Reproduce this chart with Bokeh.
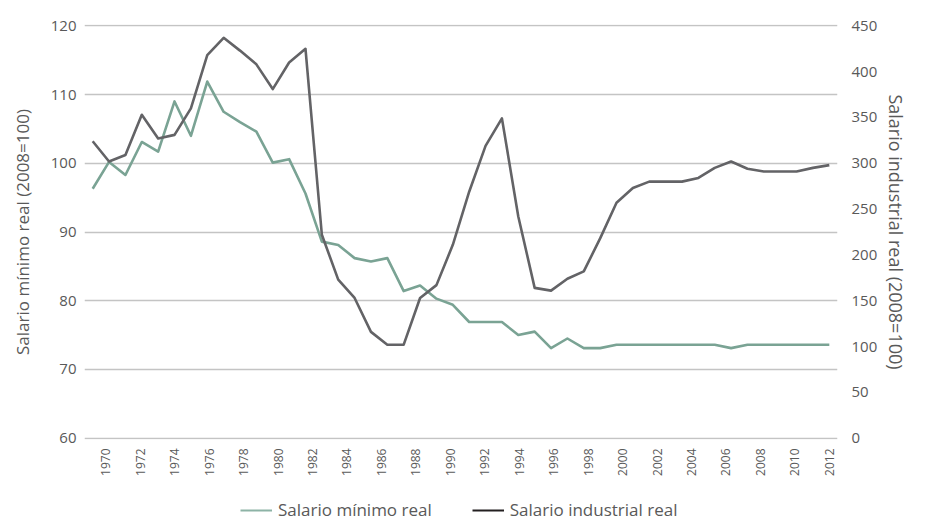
import math
from bokeh.plotting import figure
from bokeh.layouts import column
from bokeh.models import Range1d, LinearAxis, FixedTicker, Legend, LegendItem
from bokeh.embed import file_html
from bokeh.resources import INLINE

periods = list(range(46))

salario_minimo = [96.3, 100.2, 98.3, 103.1, 101.7, 109.0, 104.0, 111.9, 107.5, 106.0,
                  104.6, 100.1, 100.6, 95.6, 88.6, 88.1, 86.2, 85.7, 86.2, 81.4,
                  82.2, 80.3, 79.4, 76.9, 76.9, 76.9, 75.0, 75.5, 73.1, 74.5,
                  73.1, 73.1, 73.6, 73.6, 73.6, 73.6, 73.6, 73.6, 73.6, 73.1,
                  73.6, 73.6, 73.6, 73.6, 73.6, 73.6]

salario_industrial = [324, 302, 309, 353, 327, 331, 360, 418, 437, 423,
                      408, 381, 410, 425, 222, 173, 153, 116, 102, 102,
                      153, 167, 211, 269, 319, 349, 242, 164, 161, 174,
                      182, 218, 257, 273, 280, 280, 280, 284, 295, 302,
                      294, 291, 291, 291, 295, 298]

tick_labels = [str(y) for y in range(1970, 2013, 2)]
left_ticks = [60, 70, 80, 90, 100, 110, 120]
right_ticks = [0, 50, 100, 150, 200, 250, 300, 350, 400, 450]
series_names = ["Salario mínimo real", "Salario industrial real"]

FONT = "Open Sans"
TXT = "#595959"
GREEN = "#7aa394"
GREY = "#636366"

p = figure(width=911, height=481, output_backend="svg", toolbar_location=None,
           x_range=Range1d(-0.5, 45.5), y_range=Range1d(59.8, 120.2),
           min_border_left=84, min_border_right=72, min_border_top=24, min_border_bottom=42)
p.extra_y_ranges = {"ind": Range1d(-1.5, 451.5)}
p.outline_line_color = None
p.background_fill_color = "white"

# lines
p.line(periods, salario_minimo, line_color=GREEN, line_width=2.6, line_join="round")
p.line(periods, salario_industrial, line_color=GREY, line_width=2.6, line_join="round",
       y_range_name="ind")

# grid / axes
p.yaxis.ticker = FixedTicker(ticks=left_ticks)
p.ygrid.ticker = FixedTicker(ticks=left_ticks)
p.ygrid.grid_line_color = "#c4c4c4"
p.ygrid.grid_line_width = 1.4
p.xgrid.grid_line_color = None

n_lab = len(tick_labels)
tick_pos = [0.8 + k * (45.0 - 0.8) / (n_lab - 1) for k in range(n_lab)]
xa = p.xaxis[0]
xa.ticker = FixedTicker(ticks=tick_pos)
xa.major_label_overrides = {t: l for t, l in zip(tick_pos, tick_labels)}
xa.major_label_orientation = math.pi / 2
xa.axis_line_color = None
xa.major_tick_line_color = None
xa.minor_tick_line_color = None
xa.major_tick_out = 0
xa.minor_tick_out = 0
xa.major_label_standoff = 9
xa.major_label_text_font = FONT
xa.major_label_text_font_size = "12px"
xa.major_label_text_color = TXT

ya = p.yaxis[0]
ya.axis_label = "Salario mínimo real (2008=100)"
ya.axis_line_color = None
ya.major_tick_line_color = None
ya.minor_tick_line_color = None
ya.major_tick_out = 0
ya.minor_tick_out = 0
ya.major_label_standoff = 8
ya.major_label_text_font = FONT
ya.major_label_text_font_size = "15px"
ya.major_label_text_color = TXT
ya.axis_label_text_font = FONT
ya.axis_label_text_font_style = "normal"
ya.axis_label_text_font_size = "17px"
ya.axis_label_text_color = TXT
ya.axis_label_standoff = 14

ra = LinearAxis(y_range_name="ind", ticker=FixedTicker(ticks=right_ticks),
                axis_label="Salario industrial real (2008=100)")
ra.axis_line_color = None
ra.major_tick_line_color = None
ra.minor_tick_line_color = None
ra.major_tick_out = 0
ra.minor_tick_out = 0
ra.major_label_standoff = 14
ra.major_label_text_font = FONT
ra.major_label_text_font_size = "15px"
ra.major_label_text_color = TXT
ra.axis_label_text_font = FONT
ra.axis_label_text_font_style = "normal"
ra.axis_label_text_font_size = "18px"
ra.axis_label_text_color = TXT
ra.axis_label_standoff = 4
p.add_layout(ra, "right")

# ---- legend strip below the chart ----
lg = figure(width=911, height=40, output_backend="svg", toolbar_location=None,
            x_range=Range1d(0, 1), y_range=Range1d(0, 1),
            x_axis_type=None, y_axis_type=None, min_border=0)
lg.outline_line_color = None
# the series themselves serve as legend glyph sources (they fall outside this strip's ranges)
leg_min = lg.line(periods, salario_minimo, line_color="#8db3a6", line_width=2.2)
leg_ind = lg.line(periods, salario_industrial, line_color="#231f20", line_width=2.2)
legend = Legend(items=[LegendItem(label=series_names[0], renderers=[leg_min]),
                       LegendItem(label=series_names[1], renderers=[leg_ind])],
                orientation="horizontal", location=(156, 0))
legend.label_text_font = FONT
legend.label_text_font_size = "17px"
legend.label_text_color = TXT
legend.glyph_width = 32
legend.glyph_height = 18
legend.label_height = 18
legend.spacing = 40
legend.padding = 0
legend.margin = 0
legend.border_line_color = None
legend.background_fill_alpha = 0
legend.label_standoff = 6
lg.add_layout(legend, "center")

layout = column(p, lg, spacing=0)
open("out.html", "w").write(file_html(layout, INLINE))
